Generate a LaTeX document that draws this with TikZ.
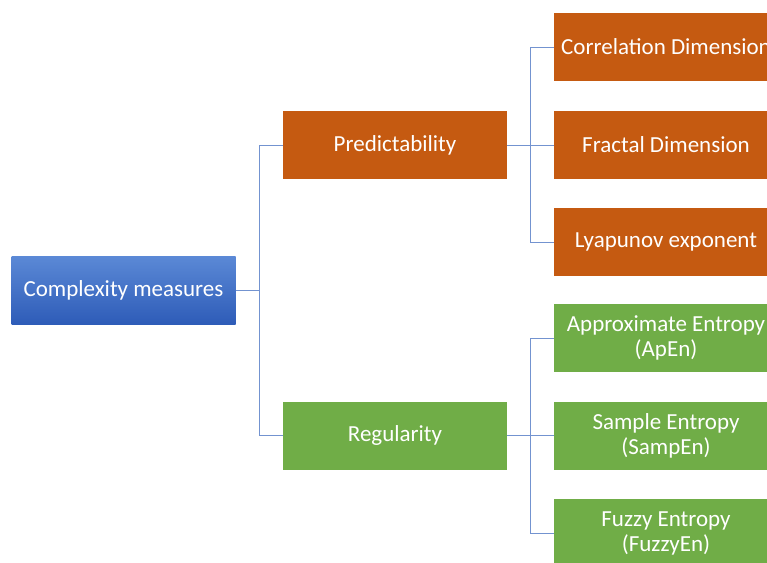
\documentclass[tikz,border=0pt]{standalone}
\usepackage{fontspec}
\setmainfont{Carlito}
\usetikzlibrary{positioning}
\definecolor{roottop}{HTML}{5B89D6}
\definecolor{rootbottom}{HTML}{2E5CB8}
\definecolor{predorange}{HTML}{C55A11}
\definecolor{reggreen}{HTML}{70AD47}
\definecolor{linkblue}{HTML}{7393D0}

\begin{document}
\begin{tikzpicture}[x=1pt, y=-1pt,
    box/.style={minimum width=224pt, minimum height=68pt, inner sep=0pt,
                text=white, align=center, font=\fontsize{23}{25}\selectfont},
    link/.style={draw=linkblue, line width=1pt}]
                \useasboundingbox (0,0) rectangle (767,562);
                \clip (0,0) rectangle (767,562);

                % Nodes
                \node[box, top color=roottop, bottom color=rootbottom] (root) at (123.5, 290) {Complexity measures}; % Root
                \node[box, fill=predorange] (pred) at (395, 145) {Predictability};   % Branch
                \node[box, fill=reggreen] (reg) at (395, 435.5) {Regularity};        % Branch

                \node[box, fill=predorange] (corr) at (666, 47) {Correlation Dimension};  % Leaf
                \node[box, fill=predorange] (frac) at (666, 145) {Fractal Dimension};     % Leaf
                \node[box, fill=predorange] (lyap) at (666, 242) {Lyapunov exponent};     % Leaf
                \node[box, fill=reggreen] (apen) at (666, 338) {Approximate Entropy\\(ApEn)}; % Leaf
                \node[box, fill=reggreen] (samp) at (666, 435.5) {Sample Entropy\\(SampEn)};  % Leaf
                \node[box, fill=reggreen] (fuzz) at (666, 533) {Fuzzy Entropy\\(FuzzyEn)};    % Leaf

                % Edges of the tree
                \draw[link] (root.east) -- ++(23.5, 0) |- (pred.west);
                \draw[link] (root.east) -- ++(23.5, 0) |- (reg.west);
                \draw[link] (pred.east) -- ++(23.5, 0) |- (corr.west);
                \draw[link] (pred.east) -- (frac.west);
                \draw[link] (pred.east) -- ++(23.5, 0) |- (lyap.west);
                \draw[link] (reg.east) -- ++(23.5, 0) |- (apen.west);
                \draw[link] (reg.east) -- (samp.west);
                \draw[link] (reg.east) -- ++(23.5, 0) |- (fuzz.west);
            \end{tikzpicture}
\end{document}
